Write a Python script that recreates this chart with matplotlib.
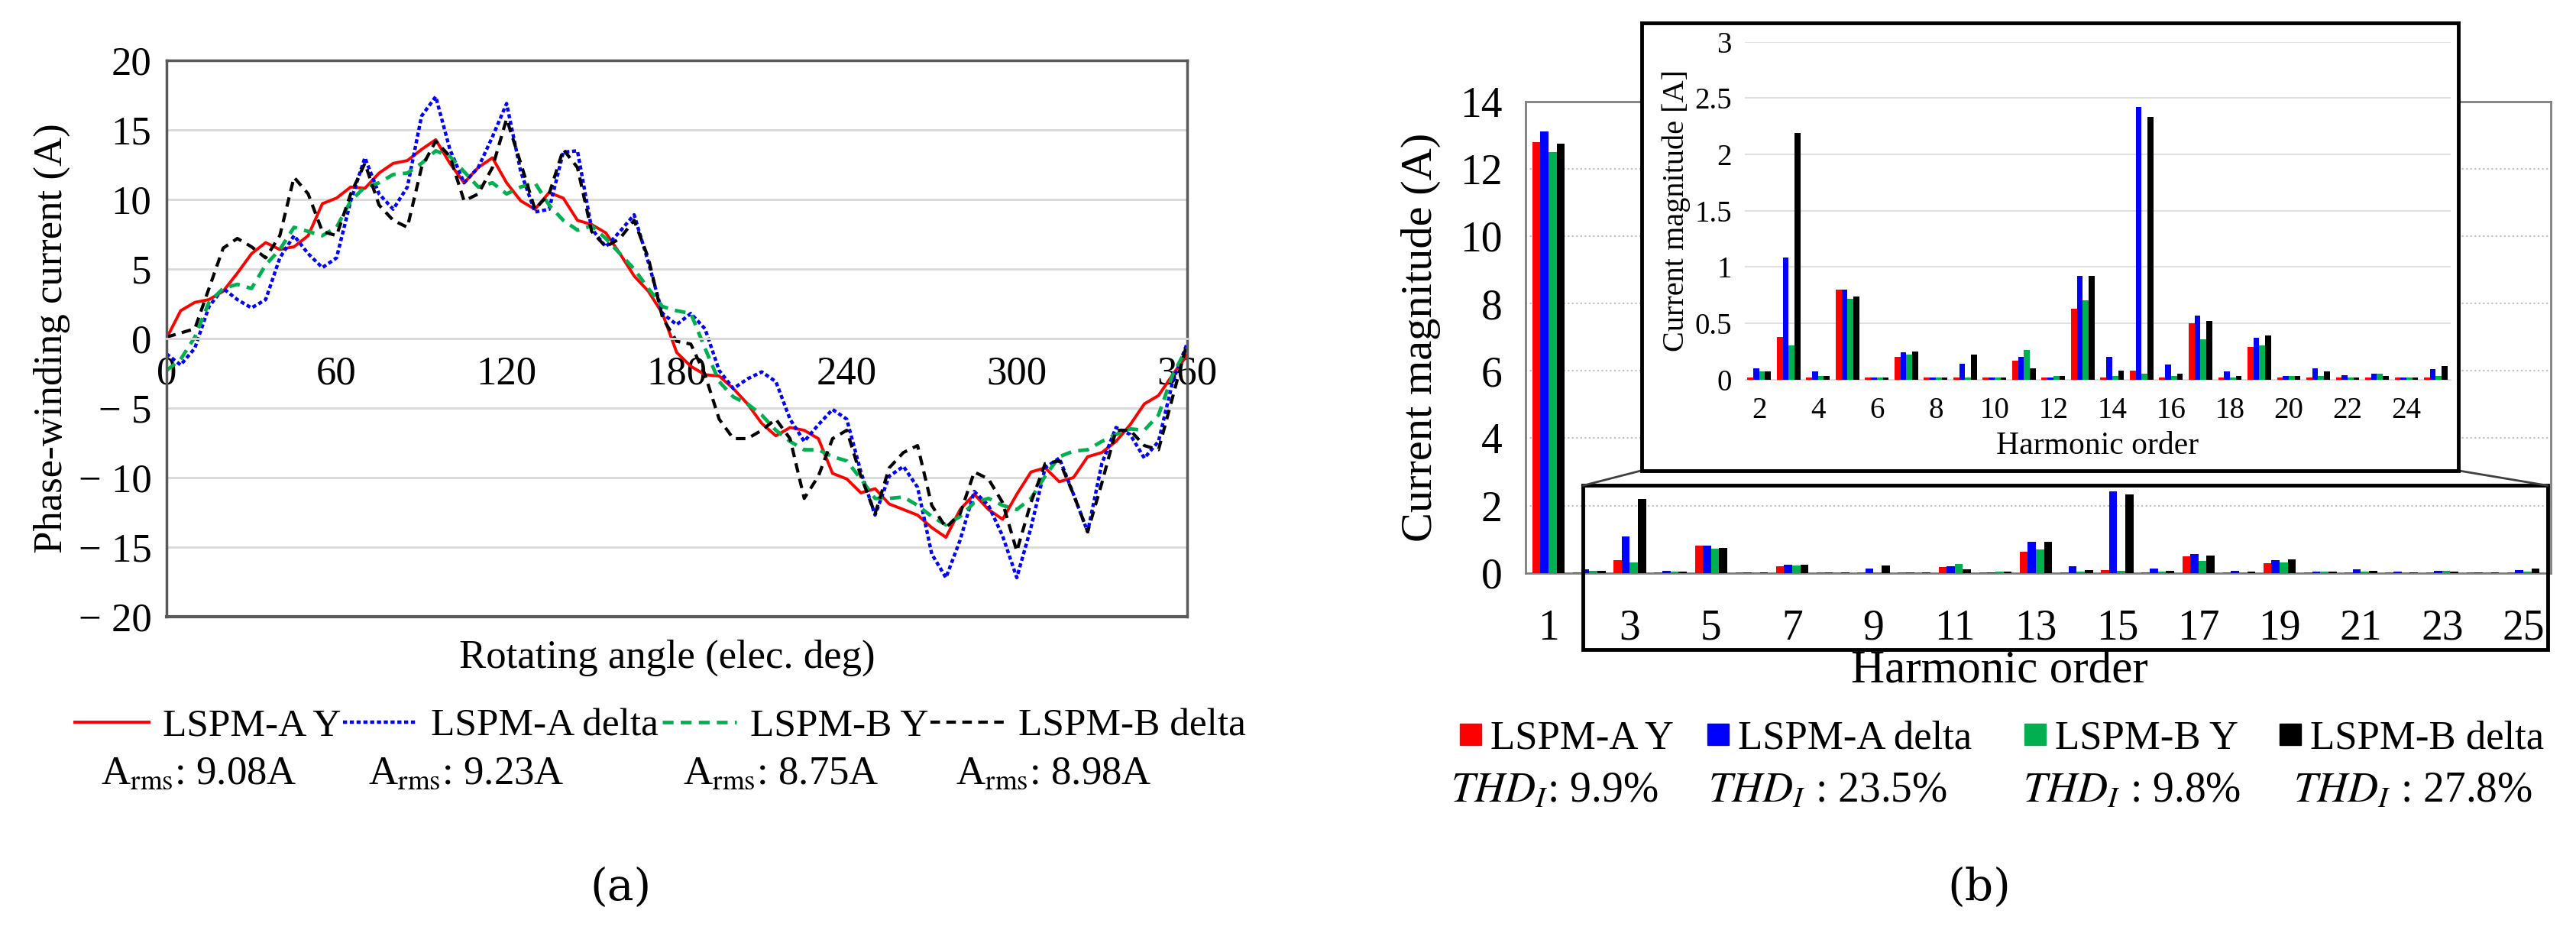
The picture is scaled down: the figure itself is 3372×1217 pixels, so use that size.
import matplotlib
matplotlib.use("Agg")
import matplotlib.pyplot as plt
import numpy as np
from matplotlib.lines import Line2D
from matplotlib.patches import Rectangle

plt.rcParams["font.family"] = ["Liberation Serif", "DejaVu Serif"]
plt.rcParams["mathtext.fontset"] = "stix"

# ---- (a) phase-winding current, read every 5 elec. deg ----
angle = np.arange(0, 361, 5)
lspm_a_y = [0.0, 2.0, 2.6, 2.8, 3.4, 4.7, 6.1, 6.9, 6.4, 6.6, 7.4, 9.7, 10.1, 10.9, 10.8, 11.9, 12.6, 12.8, 13.6, 14.3,
            12.6, 11.2, 12.3, 13.0, 11.2, 9.9, 9.3, 10.5, 10.1, 8.5, 8.2, 7.6, 6.1, 4.5, 3.4, 1.8, -1.0,
            -2.0, -2.6, -2.7, -3.6, -4.7, -6.1, -7.0, -6.4, -6.6, -7.2, -9.7, -10.1, -11.1, -10.8, -11.9, -12.3,
            -12.7, -13.6, -14.3, -12.3, -11.2, -12.3, -13.0, -11.2, -9.6, -9.3, -10.3, -10.0, -8.5, -8.2, -7.4,
            -6.2, -4.7, -4.1, -2.6, -1.2]
lspm_a_delta = [-1.1, -1.9, -0.7, 2.3, 3.6, 2.8, 2.2, 2.8, 5.8, 7.4, 6.1, 5.1, 5.8, 9.9, 13.0, 10.4, 9.3, 10.9, 16.0,
                17.4, 13.6, 11.2, 12.3, 14.5, 16.9, 12.0, 9.1, 9.3, 13.4, 13.5, 7.9, 6.6, 7.7, 8.9, 5.5, 1.8, 1.0,
                1.8, 0.7, -2.3, -3.6, -2.9, -2.4, -3.1, -5.8, -7.4, -6.2, -5.1, -5.8, -9.6, -12.7, -9.9, -9.2,
                -10.7, -15.5, -17.2, -14.5, -11.0, -12.0, -14.2, -17.2, -13.6, -9.3, -8.6, -11.2, -13.9, -9.0,
                -6.4, -6.9, -8.6, -7.4, -3.1, -0.4]
lspm_b_y = [-2.3, -1.5, 0.1, 2.6, 3.6, 3.9, 3.6, 5.3, 6.4, 8.0, 7.7, 7.4, 8.0, 9.9, 10.9, 11.2, 11.8, 11.9, 12.6, 13.5,
            13.1, 12.0, 10.9, 11.2, 10.4, 10.9, 11.2, 9.6, 8.5, 7.8, 8.1, 7.2, 6.1, 5.0, 3.6, 2.3, 2.0,
            1.8, -0.7, -3.1, -4.2, -4.7, -5.5, -6.6, -7.4, -8.0, -8.0, -8.5, -8.8, -10.1, -11.5, -11.5, -11.4,
            -12.0, -12.8, -13.4, -12.8, -11.8, -11.5, -12.0, -12.3, -11.5, -9.9, -8.5, -8.1, -8.0, -7.4, -6.9,
            -6.5, -6.6, -5.5, -2.6, -0.7]
lspm_b_delta = [0.1, 0.4, 0.7, 3.6, 6.5, 7.2, 6.6, 5.8, 7.4, 11.6, 10.4, 7.7, 7.4, 10.4, 12.6, 9.6, 8.5, 8.0, 12.3,
                14.2, 13.1, 9.9, 10.4, 12.3, 15.8, 12.6, 9.3, 10.4, 13.6, 12.3, 7.7, 6.6, 7.2, 8.5, 5.8, 1.5, -0.2,
                -0.4, -2.6, -5.8, -7.2, -7.2, -6.6, -5.8, -7.2, -11.5, -9.9, -7.2, -6.6, -9.9, -12.6, -9.3, -8.2,
                -7.7, -12.0, -13.6, -12.6, -9.6, -10.1, -11.8, -15.3, -11.8, -9.0, -8.8, -11.2, -13.9, -10.4,
                -6.6, -6.6, -7.7, -8.0, -4.2, -0.4]
rms_labels = ["9.08A", "9.23A", "8.75A", "8.98A"]

# ---- (b) harmonic spectrum ----
harmonics = np.arange(1, 26)
mag_a_y = [12.8, 0.02, 0.38, 0.02, 0.80, 0.02, 0.20, 0.02, 0.02, 0.02, 0.17, 0.02, 0.63, 0.02, 0.08,
           0.02, 0.50, 0.02, 0.29, 0.02, 0.02, 0.02, 0.02, 0.02, 0.02]
mag_a_delta = [13.1, 0.10, 1.08, 0.07, 0.80, 0.02, 0.24, 0.02, 0.14, 0.02, 0.20, 0.02, 0.92, 0.20, 2.42,
               0.13, 0.57, 0.07, 0.37, 0.03, 0.10, 0.04, 0.05, 0.02, 0.09]
mag_b_y = [12.5, 0.07, 0.30, 0.03, 0.72, 0.02, 0.22, 0.02, 0.02, 0.02, 0.26, 0.03, 0.70, 0.03, 0.05,
           0.03, 0.36, 0.02, 0.30, 0.03, 0.03, 0.02, 0.05, 0.02, 0.03]
mag_b_delta = [12.75, 0.07, 2.19, 0.03, 0.74, 0.02, 0.25, 0.02, 0.22, 0.02, 0.10, 0.03, 0.92, 0.08, 2.33,
               0.05, 0.52, 0.03, 0.39, 0.03, 0.07, 0.02, 0.03, 0.02, 0.12]
thd_labels = ["9.9%", "23.5%", "9.8%", "27.8%"]

names = ["LSPM-A Y", "LSPM-A delta", "LSPM-B Y", "LSPM-B delta"]
colors = ["#ff0000", "#0000ff", "#00b050", "#000000"]

fig = plt.figure(figsize=(33.73, 12.17), dpi=100)

# ================= (a) =================
ax = fig.add_axes([0.0646, 0.337, 0.396, 0.598])
styles = ["-", (0, (1.2, 0.8)), (0, (3, 2)), (0, (3, 2))]
widths = [2.8, 3.2, 3.4, 3.0]
series = [lspm_a_y, lspm_a_delta, lspm_b_y, lspm_b_delta]
handles = []
for vals, c, ls, lw, name in zip(series, colors, styles, widths, names):
    h, = ax.plot(angle, vals, color=c, linestyle=ls, linewidth=lw, label=name)
    handles.append(h)
ax.set_xlim(0, 360)
ax.set_ylim(-20, 20)
ax.set_yticks(np.arange(-20, 21, 5))
ax.set_yticklabels([f"\u2212 {abs(v)}" if v < 0 else str(v) for v in range(-20, 21, 5)])
ax.set_xticks(np.arange(0, 361, 60))
ax.grid(axis="y", color="#d9d9d9", linewidth=2)
ax.set_axisbelow(True)
for s in ["top", "right", "left"]:
    ax.spines[s].set_color("#595959")
    ax.spines[s].set_linewidth(2.5)
ax.spines["bottom"].set_position(("data", 0))
ax.spines["bottom"].set_color("#d9d9d9")
ax.spines["bottom"].set_linewidth(2)
ax.axhline(-20, color="#595959", linewidth=3, clip_on=False)
ax.tick_params(axis="both", length=0, labelsize=38)
ax.tick_params(axis="x", pad=16)
ax.tick_params(axis="y", pad=14)
ax.set_ylabel("Phase-winding current (A)", fontsize=38, labelpad=8)
fig.text(0.259, 0.293, "Rotating angle (elec. deg)", fontsize=38, ha="center", va="center")

for x, h, name in zip([0.029, 0.133, 0.257, 0.361], handles, names):
    fig.legend(handles=[h], labels=[name], loc="center left", bbox_to_anchor=(x, 0.219), frameon=False,
               fontsize=37, handlelength=1.9, handletextpad=0.35, borderpad=0, borderaxespad=0)
for x, r in zip([0.039, 0.143, 0.265, 0.371], rms_labels):
    fig.text(x, 0.168, r"A$_{\mathrm{rms}}$: " + r, fontsize=38, va="center")
fig.text(0.241, 0.045, "(a)", fontsize=42, ha="center", va="center", family=["DejaVu Serif"])

# ================= (b) =================
bx = fig.add_axes([0.592, 0.384, 0.398, 0.507])
bw = 0.2
mags = [mag_a_y, mag_a_delta, mag_b_y, mag_b_delta]
for i, (vals, c) in enumerate(zip(mags, colors)):
    bx.bar(harmonics + (i - 1.5) * bw, vals, width=bw, color=c, zorder=3)
bx.set_xlim(0.43, 25.68)
bx.set_ylim(0, 14)
bx.set_yticks(np.arange(0, 15, 2))
bx.set_xticks(np.arange(1, 26, 2))
bx.grid(axis="y", color="#bfbfbf", linestyle=":", linewidth=1.5)
for s in bx.spines.values():
    s.set_color("#7f7f7f")
    s.set_linewidth(2)
bx.tick_params(axis="both", length=0, labelsize=40)
bx.tick_params(axis="x", pad=34)
bx.tick_params(axis="y", pad=22)
bx.set_ylabel("Current magnitude (A)", fontsize=42, labelpad=18)
fig.text(0.776, 0.279, "Harmonic order", fontsize=44, ha="center", va="center")

# zoom rectangle over the small harmonics
bx.add_patch(Rectangle((1.84, -2.27), 23.76, 4.87, fill=False, edgecolor="black", linewidth=3.5,
                       clip_on=False, zorder=5))

# inset frame and connecting lines (figure coordinates)
fig.add_artist(Rectangle((0.637, 0.494), 0.317, 0.481, transform=fig.transFigure, facecolor="white",
                         edgecolor="black", linewidth=3.5, zorder=4))
fig.add_artist(Line2D([0.637, 0.6145], [0.494, 0.478], transform=fig.transFigure, color="#404040", linewidth=2))
fig.add_artist(Line2D([0.954, 0.9885], [0.494, 0.478], transform=fig.transFigure, color="#404040", linewidth=2))

ix = fig.add_axes([0.677, 0.592, 0.274, 0.363])
ix.set_zorder(6)
h2 = harmonics[1:]
for i, (vals, c) in enumerate(zip(mags, colors)):
    ix.bar(h2 + (i - 1.5) * bw, vals[1:], width=bw, color=c, zorder=3)
ix.set_xlim(1.5, 25.5)
ix.set_ylim(0, 3)
ix.set_yticks(np.arange(0, 3.01, 0.5))
ix.set_yticklabels(["0", "0.5", "1", "1.5", "2", "2.5", "3"])
ix.set_xticks(np.arange(2, 25, 2))
ix.grid(axis="y", color="#e0e0e0", linewidth=1.5)
ix.set_axisbelow(True)
for s in ["top", "right", "left"]:
    ix.spines[s].set_visible(False)
ix.spines["bottom"].set_color("#d9d9d9")
ix.tick_params(axis="both", length=0, labelsize=28)
ix.tick_params(axis="x", pad=16)
ix.tick_params(axis="y", pad=12)
ix.set_ylabel("Current magnitude [A]", fontsize=29, labelpad=4)
ix.set_xlabel("Harmonic order", fontsize=30, labelpad=6)

for x, c, name in zip([0.566, 0.662, 0.785, 0.884], colors, names):
    sq = Line2D([], [], marker="s", linestyle="none", color=c, markersize=20)
    fig.legend(handles=[sq], labels=[name], loc="center left", bbox_to_anchor=(x, 0.206), frameon=False,
               fontsize=38, handlelength=0.6, handletextpad=0.2, borderpad=0, borderaxespad=0)
for x, t in zip([0.563, 0.663, 0.785, 0.890], thd_labels):
    sep = ": " if x < 0.6 else " : "
    fig.text(x, 0.149, r"$THD_I$" + sep + t, fontsize=40, va="center")
fig.text(0.768, 0.045, "(b)", fontsize=42, ha="center", va="center", family=["DejaVu Serif"])

fig.savefig("out.png", dpi=100, facecolor="white")
